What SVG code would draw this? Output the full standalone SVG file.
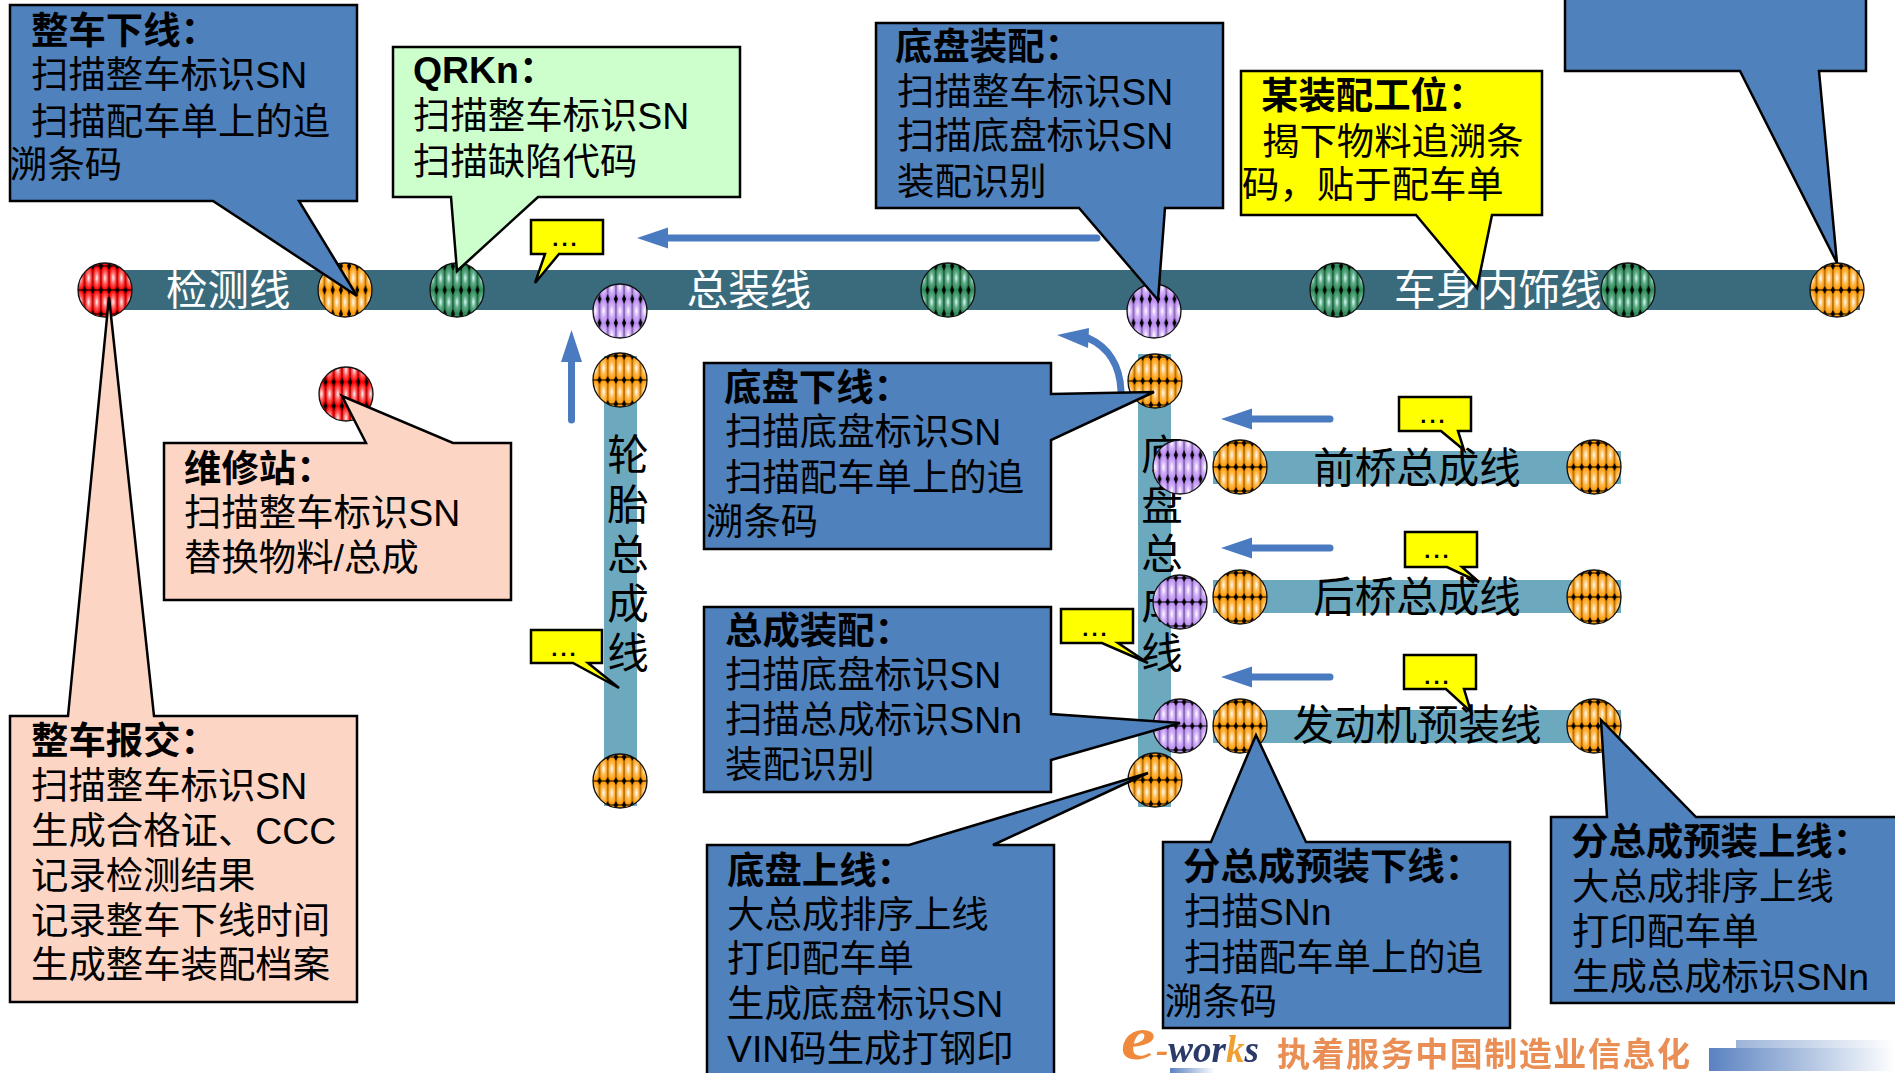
<svg xmlns="http://www.w3.org/2000/svg" width="1895" height="1073" viewBox="0 0 1895 1073">
<style>
text{font-family:"Liberation Sans","Noto Sans CJK SC",sans-serif;font-size:37.4px;fill:#000}
.t{font-weight:700}
.lab{font-size:41.5px}
.w{fill:#fff}
.mid{text-anchor:middle}
.dots{font-size:22px;font-weight:700;text-anchor:middle;letter-spacing:3px}
.call{stroke:#000;stroke-width:2.5;stroke-linejoin:miter}
.blue{fill:#4f81bd}.peach{fill:#fcd5c4}.green{fill:#ccffcc}.yel{fill:#ffff00}
.dark{fill:#3a6b7c}.light{fill:#6ca9bf}
.ball{stroke:#111;stroke-width:1.3}
.arr{fill:none;stroke:#4a7abf;stroke-width:7;stroke-linecap:round}
</style>
<defs>
<marker id="head" markerUnits="userSpaceOnUse" markerWidth="34" markerHeight="24" refX="0" refY="12" orient="auto"><path d="M0 1.500L0 22.500L31 12z" fill="#4a7abf"/></marker>
<marker id="headUp" markerUnits="userSpaceOnUse" markerWidth="34" markerHeight="24" refX="0" refY="12" orient="auto"><path d="M0 1.500L0 22.500L32 12z" fill="#4a7abf"/></marker>
<radialGradient id="gR"><stop offset="0" stop-color="#fff"/><stop offset=".45" stop-color="#ff7070"/><stop offset="1" stop-color="#f00"/></radialGradient>
<radialGradient id="gO"><stop offset="0" stop-color="#fff"/><stop offset=".5" stop-color="#ffc060"/><stop offset="1" stop-color="#ff9900"/></radialGradient>
<radialGradient id="gG"><stop offset="0" stop-color="#dff"/><stop offset=".5" stop-color="#62ab8a"/><stop offset="1" stop-color="#2e8b57"/></radialGradient>
<radialGradient id="gP"><stop offset="0" stop-color="#fff"/><stop offset=".5" stop-color="#d4b4f8"/><stop offset="1" stop-color="#b98cf0"/></radialGradient>
<g id="mkV"><path d="M0 0V24M8.200 0V24" stroke="#000" stroke-width=".5"/><path d="M0 7L2 12L0 17L-2 12zM8.200 7L10.200 12L8.200 17L6.200 12z"/></g>
<g id="mkH"><path d="M0 0V24M8.200 0V24" stroke="#000" stroke-width=".5"/><path d="M-1 12H9.200" stroke="#000" stroke-width="1"/><path d="M0 8L2.200 12L0 16L-2.200 12zM8.200 8L10.400 12L8.200 16L6 12z"/></g>
<pattern id="pRh" width="8.200" height="24" patternUnits="userSpaceOnUse" x="-4.100" y="-12"><rect width="8.200" height="24" fill="#f00"/><ellipse cx="4.100" cy="0" rx="4.100" ry="12" fill="url(#gR)"/><ellipse cx="4.100" cy="24" rx="4.100" ry="12" fill="url(#gR)"/><use href="#mkH"/></pattern>
<pattern id="pRv" width="8.200" height="24" patternUnits="userSpaceOnUse" x="-4.100" y="0"><rect width="8.200" height="24" fill="#f00"/><ellipse cx="4.100" cy="0" rx="4.100" ry="12" fill="url(#gR)"/><ellipse cx="4.100" cy="24" rx="4.100" ry="12" fill="url(#gR)"/><use href="#mkV"/></pattern>
<pattern id="pOh" width="8.200" height="24" patternUnits="userSpaceOnUse" x="-4.100" y="-12"><rect width="8.200" height="24" fill="#f90"/><ellipse cx="4.100" cy="0" rx="4.100" ry="12" fill="url(#gO)"/><ellipse cx="4.100" cy="24" rx="4.100" ry="12" fill="url(#gO)"/><use href="#mkH"/></pattern>
<pattern id="pOv" width="8.200" height="24" patternUnits="userSpaceOnUse" x="-4.100" y="-12"><rect width="8.200" height="24" fill="#f90"/><ellipse cx="4.100" cy="0" rx="4.100" ry="12" fill="url(#gO)"/><ellipse cx="4.100" cy="24" rx="4.100" ry="12" fill="url(#gO)"/><use href="#mkV"/></pattern>
<pattern id="pGv" width="8.200" height="24" patternUnits="userSpaceOnUse" x="-4.100" y="-12"><rect width="8.200" height="24" fill="#2e8b57"/><ellipse cx="4.100" cy="0" rx="4.100" ry="12" fill="url(#gG)"/><ellipse cx="4.100" cy="24" rx="4.100" ry="12" fill="url(#gG)"/><use href="#mkV"/></pattern>
<pattern id="pPv" width="8.200" height="24" patternUnits="userSpaceOnUse" x="-4.100" y="0"><rect width="8.200" height="24" fill="#b98cf0"/><ellipse cx="4.100" cy="0" rx="4.100" ry="12" fill="url(#gP)"/><ellipse cx="4.100" cy="24" rx="4.100" ry="12" fill="url(#gP)"/><use href="#mkV"/></pattern>
<pattern id="pPh" width="8.200" height="24" patternUnits="userSpaceOnUse" x="-4.100" y="-12"><rect width="8.200" height="24" fill="#b98cf0"/><ellipse cx="4.100" cy="0" rx="4.100" ry="12" fill="url(#gP)"/><ellipse cx="4.100" cy="24" rx="4.100" ry="12" fill="url(#gP)"/><use href="#mkH"/></pattern>
<linearGradient id="fade"><stop offset="0" stop-color="#5a82c0"/><stop offset="1" stop-color="#fff"/></linearGradient>
<filter id="soft"><feGaussianBlur stdDeviation=".6"/></filter>
</defs>
<rect width="1895" height="1073" fill="#fff"/>

<g id="line-main"><rect class="dark" x="105" y="270" width="1755" height="40"/>
<text class="lab w" x="166" y="305">检测线</text><text class="lab w mid" x="749" y="305">总装线</text><text class="lab w" x="1394" y="305">车身内饰线</text></g>
<g id="line-tyre"><rect class="light" x="604" y="356" width="33" height="450"/>
<text class="lab mid" x="628" y="470">轮</text><text class="lab mid" x="628" y="520">胎</text><text class="lab mid" x="628" y="570">总</text><text class="lab mid" x="628" y="619">成</text><text class="lab mid" x="628" y="668">线</text></g>
<g id="line-chassis"><rect class="light" x="1138" y="354" width="33" height="453"/>
<text class="lab mid" x="1162" y="470">底</text><text class="lab mid" x="1162" y="520">盘</text><text class="lab mid" x="1162" y="569">总</text><text class="lab mid" x="1162" y="619">成</text><text class="lab mid" x="1162" y="668">线</text></g>
<g id="line-front"><rect class="light" x="1213" y="451" width="408" height="33"/><text class="lab mid" x="1417" y="483">前桥总成线</text></g>
<g id="line-rear"><rect class="light" x="1213" y="580" width="408" height="33"/><text class="lab mid" x="1417" y="612">后桥总成线</text></g>
<g id="line-engine"><rect class="light" x="1213" y="710" width="408" height="33"/><text class="lab mid" x="1417" y="740">发动机预装线</text></g>

<g id="connectors">
<path class="arr" d="M1097 238H668" marker-end="url(#head)"/>
<path class="arr" d="M571.500 420V362" marker-end="url(#headUp)"/>
<path class="arr" d="M1121 391C1120 365 1108 347 1088 338"/>
<path d="M1057 335L1089 328L1088 348z" fill="#4a7abf"/>
<path class="arr" d="M1330 419H1252" marker-end="url(#head)"/>
<path class="arr" d="M1330 548H1252" marker-end="url(#head)"/>
<path class="arr" d="M1330 677H1252" marker-end="url(#head)"/>
</g>

<g id="balls">
<circle class="ball" fill="url(#pRh)" r="27" transform="translate(105 290)"/>
<circle class="ball" fill="url(#pOv)" r="27" transform="translate(345 290)"/>
<circle class="ball" fill="url(#pGv)" r="27" transform="translate(457 290)"/>
<circle class="ball" fill="url(#pPv)" r="27" transform="translate(620 311)"/>
<circle class="ball" fill="url(#pGv)" r="27" transform="translate(948 290)"/>
<circle class="ball" fill="url(#pPv)" r="27" transform="translate(1154 311)"/>
<circle class="ball" fill="url(#pGv)" r="27" transform="translate(1337 290)"/>
<circle class="ball" fill="url(#pGv)" r="27" transform="translate(1628 290)"/>
<circle class="ball" fill="url(#pOh)" r="27" transform="translate(1837 290)"/>
<circle class="ball" fill="url(#pRv)" r="27" transform="translate(346 394)"/>
<circle class="ball" fill="url(#pOh)" r="27" transform="translate(620 380)"/>
<circle class="ball" fill="url(#pOh)" r="27" transform="translate(620 781)"/>
<circle class="ball" fill="url(#pOh)" r="27" transform="translate(1155 381)"/>
<circle class="ball" fill="url(#pOh)" r="27" transform="translate(1155 780)"/>
<circle class="ball" fill="url(#pPv)" r="27" transform="translate(1180 467)"/>
<circle class="ball" fill="url(#pPh)" r="27" transform="translate(1180 602)"/>
<circle class="ball" fill="url(#pPh)" r="27" transform="translate(1180 726)"/>
<circle class="ball" fill="url(#pOh)" r="27" transform="translate(1240 467)"/>
<circle class="ball" fill="url(#pOh)" r="27" transform="translate(1240 597)"/>
<circle class="ball" fill="url(#pOh)" r="27" transform="translate(1240 726)"/>
<circle class="ball" fill="url(#pOh)" r="27" transform="translate(1594 467)"/>
<circle class="ball" fill="url(#pOh)" r="27" transform="translate(1594 597)"/>
<circle class="ball" fill="url(#pOh)" r="27" transform="translate(1594 726)"/>
</g>

<g id="note-1"><path class="call blue" d="M10 5H357V201H299L357 296L213 201H10z"/>
<text class="t" x="31" y="44">整车下线：</text><text x="31" y="88">扫描整车标识SN</text><text x="31" y="135">扫描配车单上的追</text><text x="10" y="178">溯条码</text></g>
<g id="note-qrkn"><path class="call green" d="M393 47H740V197H538L457 271L451 197H393z"/>
<text class="t" x="413" y="83">QRKn：</text><text x="413" y="129">扫描整车标识SN</text><text x="413" y="175">扫描缺陷代码</text></g>
<g id="note-dots-1"><path class="call yel" d="M531 220H603V254H559L535 283L545 254H531z"/><text class="dots" x="566" y="246">...</text></g>
<g id="note-chassis-assy"><path class="call blue" d="M876 23H1223V208H1165L1158 300L1079 208H876z"/>
<text class="t" x="895" y="60">底盘装配：</text><text x="897" y="105">扫描整车标识SN</text><text x="897" y="149">扫描底盘标识SN</text><text x="897" y="195">装配识别</text></g>
<g id="note-station"><path class="call yel" d="M1241 71H1542V215H1492L1477 288L1416 215H1241z"/>
<text class="t" x="1261" y="109">某装配工位：</text><text x="1262" y="155">揭下物料追溯条</text><text x="1242" y="198">码，贴于配车单</text></g>
<g id="note-topright"><path class="call blue" d="M1565 -4H1866V71H1819L1837 263L1740 71H1565z"/></g>
<g id="note-repair"><path class="call peach" d="M164 443H366L342 396L453 443H511V600H164z"/>
<text class="t" x="184" y="482">维修站：</text><text x="184" y="526">扫描整车标识SN</text><text x="184" y="571">替换物料/总成</text></g>
<g id="note-release"><path class="call peach" d="M10 716H68L109 297L154 716H357V1002H10z"/>
<text class="t" x="31" y="754">整车报交：</text><text x="31" y="799">扫描整车标识SN</text><text x="31" y="844">生成合格证、CCC</text><text x="31" y="889">记录检测结果</text><text x="31" y="934">记录整车下线时间</text><text x="31" y="978">生成整车装配档案</text></g>
<g id="note-chassis-off"><path class="call blue" d="M704 363H1051V394L1154 392L1051 440V549H704z"/>
<text class="t" x="724" y="401">底盘下线：</text><text x="725" y="445">扫描底盘标识SN</text><text x="725" y="491">扫描配车单上的追</text><text x="706" y="535">溯条码</text></g>
<g id="note-assy"><path class="call blue" d="M704 607H1051V714L1180 723L1051 760V792H704z"/>
<text class="t" x="725" y="644">总成装配：</text><text x="725" y="688">扫描底盘标识SN</text><text x="725" y="733">扫描总成标识SNn</text><text x="725" y="778">装配识别</text></g>
<g id="note-chassis-on"><path class="call blue" d="M707 845H909L1148 773L993 845H1054V1075H707z"/>
<text class="t" x="727" y="884">底盘上线：</text><text x="727" y="928">大总成排序上线</text><text x="727" y="972">打印配车单</text><text x="727" y="1017">生成底盘标识SN</text><text x="727" y="1062">VIN码生成打钢印</text></g>
<g id="note-sub-off"><path class="call blue" d="M1163 842H1211L1256 735L1306 842H1510V1028H1163z"/>
<text class="t" x="1183" y="880">分总成预装下线：</text><text x="1184" y="925">扫描SNn</text><text x="1184" y="971">扫描配车单上的追</text><text x="1165" y="1015">溯条码</text></g>
<g id="note-sub-on"><path class="call blue" d="M1551 817H1607L1601 720L1696 817H1900V1003H1551z"/>
<text class="t" x="1571" y="855">分总成预装上线：</text><text x="1572" y="900">大总成排序上线</text><text x="1572" y="945">打印配车单</text><text x="1572" y="990">生成总成标识SNn</text></g>
<g id="note-dots-2"><path class="call yel" d="M531 630H602V663H588L619 688L573 663H531z"/><text class="dots" x="565" y="656">...</text></g>
<g id="note-dots-3"><path class="call yel" d="M1061 609H1133V643H1118L1148 663L1102 643H1061z"/><text class="dots" x="1096" y="636">...</text></g>
<g id="note-dots-4"><path class="call yel" d="M1399 397H1471V431H1458L1464 450L1441 431H1399z"/><text class="dots" x="1434" y="423">...</text></g>
<g id="note-dots-5"><path class="call yel" d="M1405 532H1477V567H1462L1479 582L1447 567H1405z"/><text class="dots" x="1438" y="558">...</text></g>
<g id="note-dots-6"><path class="call yel" d="M1404 655H1476V689H1464L1471 712L1446 689H1404z"/><text class="dots" x="1438" y="684">...</text></g>

<g id="logo" filter="url(#soft)">
<text transform="translate(1121 1059) scale(1.25 1)" style="font-family:'Liberation Serif',serif;font-style:italic;font-weight:700;font-size:62px;fill:#ef8a3c">e</text>
<text x="1156" y="1062" style="font-family:'Liberation Serif',serif;font-style:italic;font-weight:700;font-size:37px;fill:#2b3a6b"><tspan fill="#ef8a3c">-</tspan>wor<tspan fill="#f0a030">k</tspan>s</text>
<rect x="1170" y="1068" width="45" height="5" fill="url(#fade)"/>
<text x="1277" y="1066" textLength="413" style="font-size:33px;font-weight:700;fill:#e98f55">执着服务中国制造业信息化</text>
<rect x="1736" y="1040" width="159" height="20" fill="url(#fade)" opacity=".6"/>
<rect x="1709" y="1048" width="186" height="23" fill="url(#fade)"/>
</g>
</svg>
